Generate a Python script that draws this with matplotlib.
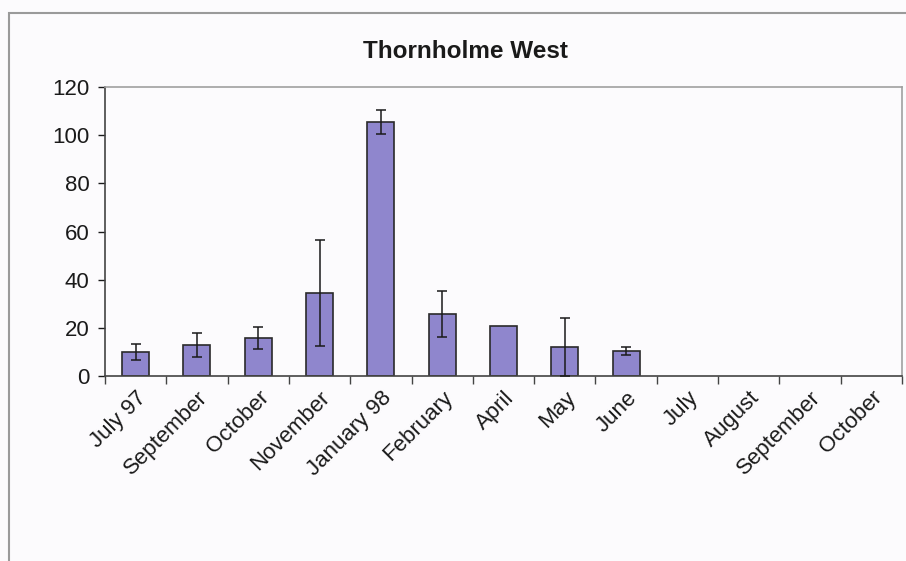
import matplotlib
matplotlib.use("Agg")
import matplotlib.pyplot as plt
from matplotlib.patches import Rectangle
import numpy as np

plt.rcParams['font.family'] = ['Liberation Sans', 'DejaVu Sans']

# months sampled (last four have no data)
months = ['July 97', 'September', 'October', 'November', 'January 98',
          'February', 'April', 'May', 'June', 'July', 'August',
          'September', 'October']
means = [10, 12.7, 15.7, 34.6, 105.6, 25.8, 20.9, 12.1, 10.4]
errors = [3.3, 5, 4.5, 22, 5, 9.5, 0, 12, 1.5]
yticks = [0, 20, 40, 60, 80, 100, 120]

bar_col = '#8f86cd'

fig = plt.figure(figsize=(9.06, 5.61), dpi=100)
fig.patch.set_facecolor('#fcfbfd')

# chart area border (runs off the right/bottom of the scan)
fig.patches.append(Rectangle((9 / 906, -0.1), 1.2, 1 - 13 / 561 + 0.1,
                             transform=fig.transFigure, fill=False,
                             edgecolor='#9a9a9a', linewidth=1.5))

ax = fig.add_axes([105 / 906, 1 - 376 / 561, 797 / 906, (376 - 87) / 561])
ax.set_facecolor('#fcfbfd')

x = np.arange(len(means))
ax.bar(x, means, width=0.44, color=bar_col, edgecolor='#2a2a2a', linewidth=1.2, zorder=2)
err_x = [i for i in x if errors[i] > 0]
ax.errorbar(err_x, [means[i] for i in err_x], yerr=[errors[i] for i in err_x],
            fmt='none', ecolor='#1a1a1a', elinewidth=1.1, capsize=3.5, capthick=1.1, zorder=3)

ax.set_xlim(-0.5, len(months) - 0.5)
ax.set_ylim(0, 120)
ax.set_yticks(yticks)
ax.set_xticks(np.arange(len(months)))
ax.set_xticklabels(months, rotation=45, ha='right', rotation_mode='anchor')
ax.set_xticks(np.arange(len(months) + 1) - 0.5, minor=True)
ax.tick_params(axis='x', which='major', length=0, labelsize=16, pad=8, colors='#1a1a1a')
ax.tick_params(axis='x', which='minor', length=6, width=1, color='#444444')
ax.tick_params(axis='y', length=5, width=1, labelsize=16, colors='#1a1a1a', pad=6)

for side in ['left', 'bottom']:
    ax.spines[side].set_color('#444444')
    ax.spines[side].set_linewidth(1.2)
for side in ['top', 'right']:
    ax.spines[side].set_color('#a0a0a0')
    ax.spines[side].set_linewidth(1.2)

fig.text(465 / 906, 1 - 51 / 561, 'Thornholme West', ha='center', va='center',
         fontsize=17.5, fontweight='bold', color='#1a1a1a')

fig.savefig('out.png', dpi=100, facecolor=fig.get_facecolor())
